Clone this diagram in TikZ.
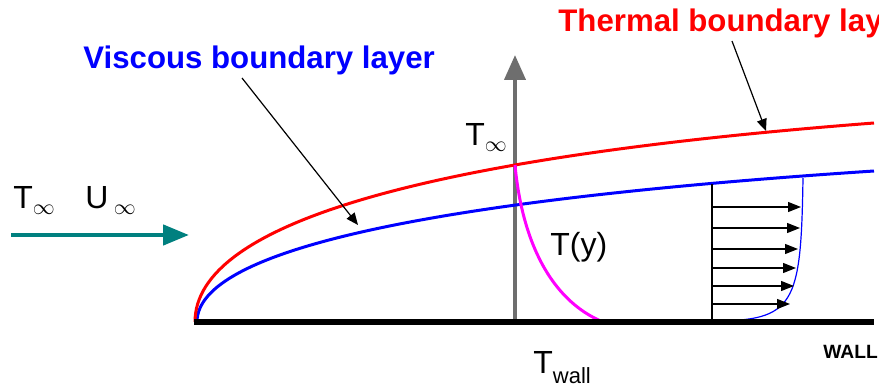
\documentclass[tikz,border=0pt]{standalone}
\usepackage{fontspec}
\setmainfont{Liberation Sans}
\usetikzlibrary{arrows.meta}
\definecolor{viscblue}{HTML}{0000FF}
\definecolor{thermred}{HTML}{FF0000}
\definecolor{flowteal}{HTML}{00807F}
\definecolor{axisgrey}{HTML}{6E6E6E}
\definecolor{tmagenta}{HTML}{FF00FF}
\tikzset{
  wall/.style    = {line width=3pt},
  layer/.style   = {line width=1.5pt},
  yaxis/.style   = {-{Triangle[length=12.5pt,width=10.5pt]}, line width=2pt, axisgrey},
  flow/.style    = {-{Triangle[length=13pt,width=10pt]}, line width=2.3pt, flowteal},
  pointer/.style = {-{Triangle[length=6pt,width=5pt]}, line width=0.6pt},
  uvec/.style    = {-{Triangle[length=6.5pt,width=5pt]}, line width=0.65pt},
  lbl/.style     = {anchor=base west, inner sep=0pt, font=\fontsize{16}{18}\selectfont},
  title/.style   = {anchor=base west, inner sep=0pt, font=\fontsize{15.6}{18}\selectfont\bfseries},
}

\begin{document}
\begin{tikzpicture}[x=0.5pt,y=-0.5pt]
  \clip (0,0) rectangle (879,385);
  % temperature axis
  \coordinate (axis0) at (515,322);
  \coordinate (axistop) at (515,55);
  \draw[yaxis] (axis0) -- (axistop);
  % boundary layers
  \coordinate (vlead) at (197,322);
  \coordinate (vend) at (874,171);
  \draw[layer, viscblue] (vlead) .. controls (197,251) and (422,200.7) .. (vend);
  \coordinate (tlead) at (195,322);
  \coordinate (tend) at (874,123);
  \draw[layer, thermred] (tlead) .. controls (195,224) and (421,157.8) .. (tend);
  % temperature profile
  \coordinate (tedge0) at (515,165);
  \coordinate (twall0) at (603,322);
  \draw[layer, tmagenta] (tedge0) .. controls (522,240) and (550,300) .. (twall0);
  % velocity profile
  \coordinate (prof0) at (712,321);
  \coordinate (prof1) at (712,184);
  \coordinate (prof2) at (803,178);
  \draw[line width=0.65pt] (prof0) -- (prof1);
  \draw[viscblue, line width=0.6pt] (prof0) .. controls (795,321) and (801,305) .. (prof2);
  \foreach \yy/\xx in {207/801, 228/800, 249/798, 268/796, 286/794, 304/790}
    \draw[uvec] (712,\yy) -- (\xx,\yy);
  % wall
  \coordinate (lead) at (194,322);
  \coordinate (wallend) at (874,322);
  \draw[wall] (lead) -- (wallend);
  % free stream
  \coordinate (inflow) at (11,235);
  \coordinate (inflowtip) at (189,235);
  \draw[flow] (inflow) -- (inflowtip);
  \node[lbl] (tinf) at (13,209) {T$_\infty$};
  \node[lbl] (uinf) at (85,209) {U\,$_\infty$};
  % labels
  \node[lbl] (tedge) at (465,146) {T$_\infty$};
  \node[lbl] (ty) at (550,256) {T(y)};
  \node[lbl] (twall) at (533,373) {T\raisebox{-5pt}{\fontsize{11}{11}\selectfont wall}};
  \node[anchor=base west, inner sep=0pt, font=\fontsize{9.6}{10}\selectfont\bfseries] (walllbl)
    at (823,358) {WALL};
  \node[title, viscblue] (vlabel) at (83,69) {Viscous boundary layer};
  \node[title, thermred] (tlabel) at (558,32) {Thermal boundary layer};
  \coordinate (vtail) at (242,78);
  \coordinate (vtip) at (358,225);
  \draw[pointer] (vtail) -- (vtip);
  \coordinate (ttail) at (732,41);
  \coordinate (ttip) at (766,131);
  \draw[pointer] (ttail) -- (ttip);
\end{tikzpicture}
\end{document}
